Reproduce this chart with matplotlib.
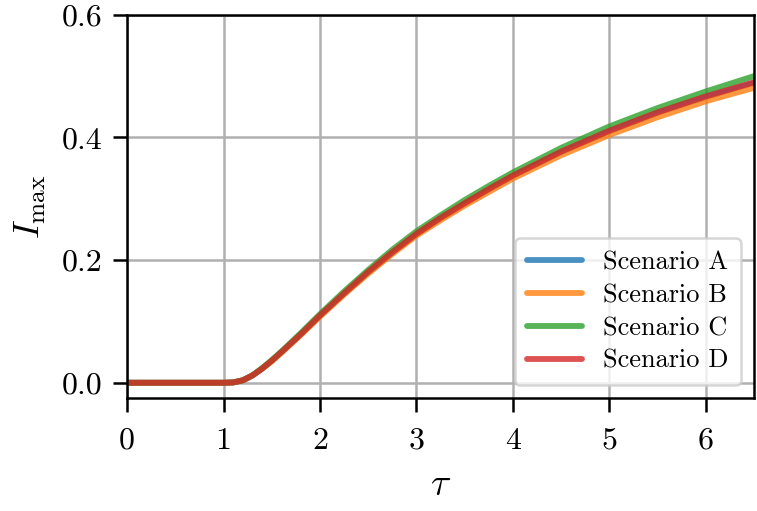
import matplotlib
matplotlib.use("Agg")
import matplotlib.pyplot as plt

plt.rcParams['font.family'] = 'serif'
plt.rcParams['font.serif'] = ['cmr10']
plt.rcParams['mathtext.fontset'] = 'cm'
plt.rcParams['axes.formatter.use_mathtext'] = True

tau = [0, 0.5, 1.0, 1.1, 1.2, 1.3, 1.4, 1.5, 1.6, 1.8, 2.0, 2.25, 2.5, 2.75,
       3.0, 3.25, 3.5, 3.75, 4.0, 4.5, 5.0, 5.5, 6.0, 6.5]
scenario_a = [0, 0, 0, 0.0005, 0.004, 0.012, 0.023, 0.036, 0.050, 0.079, 0.109, 0.145,
              0.180, 0.212, 0.242, 0.268, 0.292, 0.315, 0.337, 0.376, 0.410, 0.440, 0.466, 0.489]
scenario_b = [0, 0, 0, 0.0005, 0.004, 0.012, 0.023, 0.035, 0.049, 0.078, 0.108, 0.144,
              0.178, 0.210, 0.240, 0.265, 0.289, 0.311, 0.333, 0.371, 0.404, 0.433, 0.459, 0.481]
scenario_c = [0, 0, 0, 0.0005, 0.004, 0.012, 0.024, 0.037, 0.051, 0.081, 0.112, 0.149,
              0.184, 0.217, 0.247, 0.273, 0.298, 0.321, 0.343, 0.383, 0.418, 0.448, 0.475, 0.500]
scenario_d = [0, 0, 0, 0.0005, 0.004, 0.012, 0.023, 0.036, 0.050, 0.079, 0.110, 0.146,
              0.181, 0.213, 0.243, 0.269, 0.293, 0.316, 0.338, 0.377, 0.411, 0.441, 0.467, 0.490]
labels = ["Scenario A", "Scenario B", "Scenario C", "Scenario D"]
colors = ["tab:blue", "tab:orange", "tab:green", "tab:red"]
xticks = [0, 1, 2, 3, 4, 5, 6]
yticks = [0.0, 0.2, 0.4, 0.6]

fig = plt.figure(figsize=(7.57, 5.11), dpi=100)
ax = fig.add_axes([0.168, 0.221, 0.828, 0.750])

for y, lab, c in zip([scenario_a, scenario_b, scenario_c, scenario_d], labels, colors):
    ax.plot(tau, y, color=c, lw=4.2, alpha=0.8, label=lab, solid_capstyle='round')

ax.set_xlim(0, 6.5)
ax.set_ylim(-0.025, 0.6)
ax.set_xticks(xticks)
ax.set_yticks(yticks)
ax.set_xticklabels([str(t) for t in xticks])
ax.set_yticklabels([f"{t:.1f}" for t in yticks])
ax.grid(True, color='#b0b0b0', lw=1.8)
ax.set_axisbelow(True)
for s in ax.spines.values():
    s.set_linewidth(1.8)
ax.tick_params(direction='out', length=10, width=1.8, labelsize=23)
ax.tick_params(axis='x', pad=11)
ax.tick_params(axis='y', pad=8)
ax.set_xlabel(r'$\tau$', fontsize=27, labelpad=10)
ax.set_ylabel(r'$I_{\max}$', fontsize=26, labelpad=10)

leg = ax.legend(loc='lower right', fontsize=19, handlelength=2.1, handletextpad=0.8,
                framealpha=0.8, edgecolor='#cccccc', fancybox=True,
                labelspacing=0.35, borderaxespad=0.5, borderpad=0.45)
leg.get_frame().set_linewidth(1.8)

fig.savefig("out.png", dpi=100)
